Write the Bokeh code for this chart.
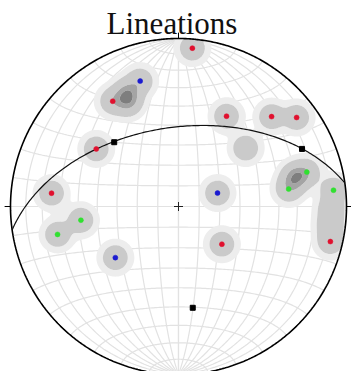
import numpy as np
from bokeh.plotting import figure
from bokeh.models import Range1d
from bokeh.core.properties import value
from bokeh.embed import file_html
from bokeh.resources import INLINE

TITLE = "Lineations"

# lineations (trend, plunge in degrees), lower hemisphere
red_trend = [5, 328, 305, 28, 46, 53, 276, 131, 103]
red_plunge = [6, 27, 40, 39, 24, 13, 25, 62, 8]
blue_trend = [343, 71, 231]
blue_plunge = [23, 70, 50]
green_trend = [75, 81, 84, 262, 257]
green_plunge = [22, 34, 8, 41, 27]
# eigenvectors (black squares); the last one is the pole of the best-fit great circle
eig_trend = [315, 65, 172]
eig_plunge = [45, 20, 39]
# lineations that only enter the density contouring
hidden_trend = [336, 335, 334, 49, 76, 76, 91, 97]
hidden_plunge = [26, 29, 32, 46, 29, 29, 10, 10]
# density contour levels (single isolated lineation peaks at 1)
density_levels = [0.06, 0.3, 1.4, 2.2, 100.0]
density_colors = ["#ededed", "#cacaca", "#a4a4a4", "#7e7e7e"]

# ---------------- layout constants (pixels) ----------------
W, H = 351, 371
R_PX = 168.0
CX, CY = 178.0, 206.0  # centre of the net inside the figure (from top-left)
SIGMA = 8.0 / R_PX


def project(trend, plunge):
    t = np.radians(np.asarray(trend, dtype=float))
    p = np.radians(np.asarray(plunge, dtype=float))
    n = np.cos(p) * np.cos(t)
    e = np.cos(p) * np.sin(t)
    d = np.sin(p)
    s = np.sqrt(1.0 + d)
    return e / s, n / s


def project_vec(n, e, d):
    s = np.sqrt(1.0 + d)
    return e / s, n / s


p = figure(width=W, height=H, output_backend="svg", toolbar_location=None,
           x_range=Range1d(-CX / R_PX, (W - CX) / R_PX),
           y_range=Range1d(-(H - CY) / R_PX, CY / R_PX),
           x_axis_location=None, y_axis_location=None, min_border=0)
p.outline_line_color = None
p.grid.visible = False
p.background_fill_color = "white"

# ---------------- Schmidt net ----------------
xs_net, ys_net = [], []
a = np.linspace(0, np.pi, 181)
for dd in (90, 270):
    for dip in range(10, 91, 10):
        ddr, dr = np.radians(dd), np.radians(dip)
        st = ddr - np.pi / 2
        n = np.cos(a) * np.cos(st) + np.sin(a) * np.cos(dr) * np.cos(ddr)
        e = np.cos(a) * np.sin(st) + np.sin(a) * np.cos(dr) * np.sin(ddr)
        d = np.sin(a) * np.sin(dr)
        x, y = project_vec(n, e, d)
        xs_net.append(x.tolist()); ys_net.append(y.tolist())
for c in range(10, 171, 10):
    cr = np.radians(c)
    n = np.full_like(a, np.cos(cr))
    e = np.sin(cr) * np.cos(a)
    d = np.sin(cr) * np.sin(a)
    x, y = project_vec(n, e, d)
    xs_net.append(x.tolist()); ys_net.append(y.tolist())
p.multi_line(xs_net, ys_net, line_color="#e2e2e2", line_width=1.2)

# ---------------- density contours ----------------
all_t = red_trend + blue_trend + green_trend + hidden_trend
all_p = red_plunge + blue_plunge + green_plunge + hidden_plunge
px, py = project(all_t, all_p)
g = np.linspace(-1.02, 1.02, 420)
GX, GY = np.meshgrid(g, g)
Z = np.zeros_like(GX)
for x0, y0 in zip(px, py):
    Z += np.exp(-((GX - x0) ** 2 + (GY - y0) ** 2) / (2 * SIGMA ** 2))
Z[GX ** 2 + GY ** 2 > 1.0] = 0.0
p.contour(g, g, Z, levels=density_levels, fill_color=density_colors, line_color=None)

# ---------------- primitive, ticks, centre ----------------
th = np.linspace(0, 2 * np.pi, 721)
p.line(np.cos(th), np.sin(th), line_color="black", line_width=1.6)
tick_az = np.radians([0, 90, 180, 270])
p.segment(np.sin(tick_az), np.cos(tick_az), 1.035 * np.sin(tick_az), 1.035 * np.cos(tick_az),
          line_color="black", line_width=1)
p.scatter([0], [0], marker="cross", size=9, line_color="#222222", line_width=1)

# ---------------- best-fit great circle from its pole ----------------
dd = np.radians((eig_trend[2] + 180) % 360)
dip = np.radians(90 - eig_plunge[2])
st = dd - np.pi / 2
n = np.cos(a) * np.cos(st) + np.sin(a) * np.cos(dip) * np.cos(dd)
e = np.cos(a) * np.sin(st) + np.sin(a) * np.cos(dip) * np.sin(dd)
d = np.sin(a) * np.sin(dip)
gx, gy = project_vec(n, e, d)
p.line(gx, gy, line_color="#111111", line_width=1.2)

# ---------------- lineations ----------------
for tr, pl, col in ((red_trend, red_plunge, "#e0102e"),
                    (blue_trend, blue_plunge, "#1a1ad0"),
                    (green_trend, green_plunge, "#30e030")):
    x, y = project(tr, pl)
    p.scatter(x, y, size=5, fill_color=col, line_color=col, line_width=0.5)
x, y = project(eig_trend, eig_plunge)
p.scatter(x, y, marker="square", size=5, fill_color="black", line_color="black")

# ---------------- title ----------------
p.text(x=[(171.5 - CX) / R_PX], y=[(CY - 23) / R_PX], text=[TITLE],
       text_align="center", text_baseline="alphabetic",
       text_font=value("Liberation Serif"), text_font_size="31px", text_color="#111111")

open("out.html", "w").write(file_html(p, INLINE))
